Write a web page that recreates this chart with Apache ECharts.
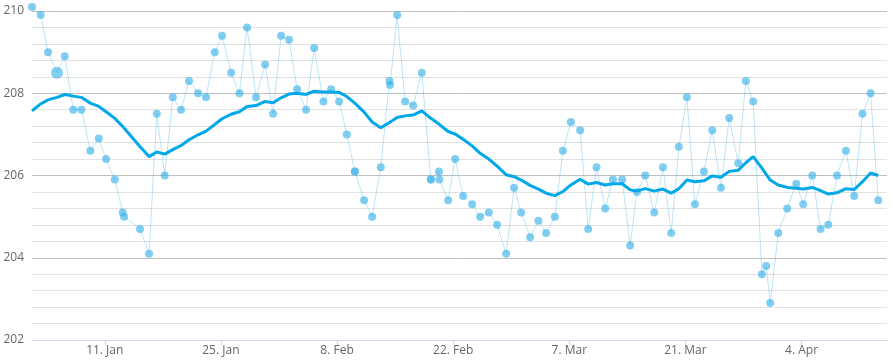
<!DOCTYPE html>
<html>
<head>
<meta charset="utf-8">
<script src="https://cdn.jsdelivr.net/npm/echarts@6/dist/echarts.min.js"></script>
<style>
html,body{margin:0;padding:0;background:#fff;}
#chart{width:891px;height:360px;}
</style>
</head>
<body>
<div id="chart"></div>
<script>
// x values: days since 1 Jan 2016 (fractional)
var days = [1.23,2.28,3.16,4.25,5.18,6.21,7.18,8.26,9.28,10.16,11.21,12.17,12.33,14.26,15.34,16.27,17.23,18.20,19.20,20.16,
21.25,22.21,23.26,24.14,25.23,26.23,27.16,28.24,29.33,30.29,31.26,32.22,33.19,34.27,35.24,36.36,37.29,38.25,39.18,40.15,
41.27,42.23,43.28,44.32,44.40,45.25,46.21,47.18,48.22,49.31,50.29,50.33,51.40,52.24,53.20,54.29,55.25,56.30,57.30,58.39,
59.35,60.20,61.28,62.28,63.21,64.26,65.23,66.19,67.31,68.28,69.28,70.33,71.26,72.38,73.34,74.15,75.15,76.24,77.29,78.29,
79.21,80.18,81.14,82.23,83.23,84.28,85.28,86.37,87.29,88.17,89.22,89.74,90.22,91.19,92.27,93.36,94.20,95.29,96.29,97.22,
98.27,99.35,100.35,101.35,102.32,103.25];
var values = [210.1,209.9,209.0,208.5,208.9,207.6,207.6,206.6,206.9,206.4,205.9,205.1,205.0,204.7,204.1,207.5,206.0,207.9,207.6,208.3,
208.0,207.9,209.0,209.4,208.5,208.0,209.6,207.9,208.7,207.5,209.4,209.3,208.1,207.6,209.1,207.8,208.1,207.8,207.0,206.1,
205.4,205.0,206.2,208.3,208.2,209.9,207.8,207.7,208.5,205.9,206.1,205.9,205.4,206.4,205.5,205.3,205.0,205.1,204.8,204.1,
205.7,205.1,204.5,204.9,204.6,205.0,206.6,207.3,207.1,204.7,206.2,205.2,205.9,205.9,204.3,205.6,206.0,205.1,206.2,204.6,
206.7,207.9,205.3,206.1,207.1,205.7,207.4,206.3,208.3,207.8,203.6,203.8,202.9,204.6,205.2,205.8,205.3,206.0,204.7,204.8,
206.0,206.6,205.5,207.5,208.0,205.4];
var average = [207.57,207.74,207.84,207.90,207.97,207.93,207.90,207.76,207.68,207.55,207.39,207.19,207.15,206.70,206.46,206.57,206.52,206.63,206.73,206.87,
206.99,207.08,207.24,207.38,207.49,207.55,207.68,207.70,207.80,207.77,207.89,207.98,208.00,207.97,208.05,208.03,208.03,208.02,207.92,207.76,
207.54,207.30,207.16,207.29,207.30,207.41,207.45,207.47,207.57,207.39,207.25,207.25,207.07,207.01,206.88,206.72,206.54,206.40,206.23,206.02,
205.97,205.89,205.76,205.67,205.57,205.51,205.61,205.77,205.91,205.79,205.83,205.77,205.80,205.80,205.65,205.62,205.68,205.62,205.67,205.57,
205.68,205.89,205.85,205.87,205.99,205.96,206.10,206.13,206.31,206.46,206.18,206.03,205.89,205.77,205.71,205.69,205.67,205.71,205.63,205.55,
205.58,205.68,205.66,205.85,206.06,206.00];
// overlapping duplicate readings (drawn darker)
var dupDays = [40.15, 49.31];
var dupValues = [206.1, 205.9];
var highlightIndex = 3;
var tickDays = [10, 24, 38, 52, 66, 80, 94];
var tickLabels = ['11. Jan', '25. Jan', '8. Feb', '22. Feb', '7. Mar', '21. Mar', '4. Apr'];
var yTicks = [202, 204, 206, 208, 210];

var pointData = days.map(function (d, i) {
  var item = {value: [d, values[i]]};
  if (i === highlightIndex) item.symbolSize = 12;
  return item;
});
var dupData = dupDays.map(function (d, i) { return [d, dupValues[i]]; });
var avgData = days.map(function (d, i) { return [d, average[i]]; });

var chart = echarts.init(document.getElementById('chart'), null, {renderer: 'canvas'});
chart.setOption({
  animation: false,
  backgroundColor: '#ffffff',
  textStyle: {fontFamily: 'Open Sans'},
  grid: {left: 32, right: 4, top: 11, bottom: 20, containLabel: false},
  xAxis: {
    type: 'value',
    min: 1.23,
    max: 104.30,
    splitLine: {show: false},
    axisLine: {show: true, lineStyle: {color: '#ccd6eb', width: 1}},
    axisTick: {show: true, length: 5, lineStyle: {color: '#ccd6eb'}, customValues: tickDays},
    axisLabel: {
      customValues: tickDays,
      margin: 5,
      color: '#666666',
      fontSize: 12,
      fontFamily: 'Open Sans',
      formatter: function (v) {
        var i = tickDays.indexOf(Math.round(v));
        return i >= 0 ? tickLabels[i] : '';
      }
    }
  },
  yAxis: {
    type: 'value',
    min: yTicks[0],
    max: yTicks[yTicks.length - 1],
    interval: 2,
    axisLine: {show: false},
    axisTick: {show: false},
    axisLabel: {color: '#666666', fontSize: 12, fontFamily: 'Open Sans', margin: 8},
    splitLine: {show: true, lineStyle: {color: '#c0c0c0', width: 1}},
    minorTick: {show: false, splitNumber: 5},
    minorSplitLine: {show: true, lineStyle: {color: '#e2e2e2', width: 1}}
  },
  series: [
    {
      type: 'line',
      data: pointData,
      clip: false,
      symbol: 'circle',
      symbolSize: 8,
      showSymbol: true,
      lineStyle: {color: 'rgba(63,179,234,0.35)', width: 1},
      itemStyle: {color: 'rgba(63,179,234,0.65)', borderWidth: 0},
      z: 2
    },
    {
      type: 'scatter',
      data: dupData,
      clip: false,
      symbol: 'circle',
      symbolSize: 8,
      itemStyle: {color: 'rgba(63,179,234,0.65)', borderWidth: 0},
      z: 2
    },
    {
      type: 'line',
      data: avgData,
      clip: false,
      showSymbol: false,
      symbol: 'none',
      lineStyle: {color: '#00a8ea', width: 3},
      z: 3
    }
  ]
});
</script>
</body>
</html>
